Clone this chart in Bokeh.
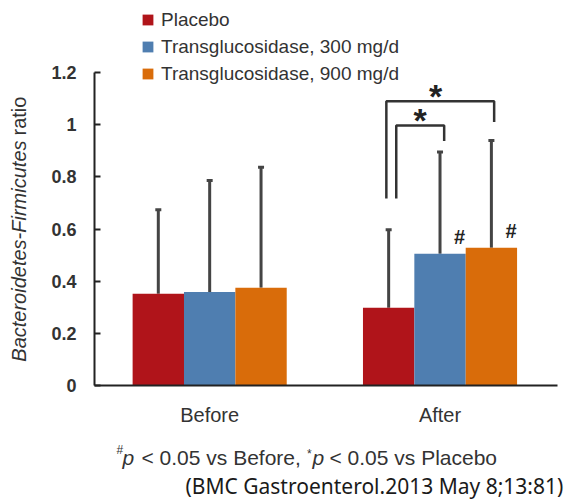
import math
from bokeh.plotting import figure
from bokeh.models import (Range1d, FixedTicker, Whisker, ColumnDataSource, Legend,
                          LegendItem, Label, TeeHead)
from bokeh.core.properties import value
from bokeh.embed import file_html
from bokeh.resources import INLINE

# ---------------- data ----------------
groups = ["Before", "After"]
series = ["Placebo", "Transglucosidase, 300 mg/d", "Transglucosidase, 900 mg/d"]
colors = ["#B0141A", "#4F7EB0", "#D96C0A"]
placebo = [0.352, 0.298]
tg300 = [0.358, 0.505]
tg900 = [0.375, 0.528]
placebo_sd = [0.322, 0.299]
tg300_sd = [0.428, 0.390]
tg900_sd = [0.462, 0.411]
yticks = [0, 0.2, 0.4, 0.6, 0.8, 1.0, 1.2]
ytick_labels = ["0", "0.2", "0.4", "0.6", "0.8", "1", "1.2"]
hash_marks = [[False, False], [False, True], [False, True]]  # p<0.05 vs Before
ylabel_italic = "Bacteroidetes-Firmicutes"
ylabel_plain = "ratio"
note_parts = ["#", "p", "< 0.05 vs Before,", "*", "p", "< 0.05 vs Placebo"]
citation = "(BMC Gastroenterol.2013 May 8;13:81)"

FONT = "Liberation Sans"
TXT = "#333333"

W, H = 566, 499
# plot area of the axes (pixels): left 94, right 557, top 72, bottom 385
X0, X1 = 0.5, 2.51
Y0, Y1 = 0.0, 1.2
kx = (557 - 94) / (X1 - X0)
ky = (385 - 72) / (Y1 - Y0)
x_range = Range1d(X0 - 94 / kx, X0 - 94 / kx + W / kx)
y_range = Range1d(Y1 + 72 / ky - H / ky, Y1 + 72 / ky)

p = figure(width=W, height=H, x_range=x_range, y_range=y_range, title=None,
           output_backend="svg", toolbar_location=None,
           min_border_left=0, min_border_right=0, min_border_top=0, min_border_bottom=0)
p.outline_line_color = None
p.xgrid.visible = False
p.ygrid.visible = False

bar_w = 0.223
offsets = [-bar_w, 0.0, bar_w]
group_x = [i + 1 for i in range(len(groups))]
all_vals = [placebo, tg300, tg900]
all_sd = [placebo_sd, tg300_sd, tg900_sd]

centers = []
uppers = []
for vals, sds, col, off, hm in zip(all_vals, all_sd, colors, offsets, hash_marks):
    xs = [g + off for g in group_x]
    up = [v + s for v, s in zip(vals, sds)]
    centers.append(xs)
    uppers.append(up)
    src = ColumnDataSource(dict(x=xs, top=vals, upper=up, lower=vals))
    p.vbar(x="x", top="top", bottom=0, width=bar_w, source=src,
           fill_color=col, line_color=None)
    w = Whisker(source=src, base="x", upper="upper", lower="lower", dimension="height",
                line_color="#444444", line_width=3,
                upper_head=TeeHead(size=6, line_color="#444444", line_width=3),
                lower_head=None)
    p.add_layout(w)
    hx = [x + 0.085 for x, h in zip(xs, hm) if h]
    hy = [v for v, h in zip(vals, hm) if h]
    if hx:
        p.text(x=hx, y=hy, text=["#"] * len(hx), text_font=value(FONT),
               text_font_style="bold", text_font_size="20px", text_color="#222222",
               text_align="center", text_baseline="middle", y_offset=-17)

# significance brackets (After group, vs placebo)
pl_x = centers[0][1]
br_xs = [
    [pl_x + 0.033, pl_x + 0.033, centers[1][1] + 0.018, centers[1][1] + 0.018],
    [pl_x - 0.010, pl_x - 0.010, centers[2][1] + 0.012, centers[2][1] + 0.012],
]
br_top = [uppers[1][1] + 0.102, uppers[2][1] + 0.151]
br_low = uppers[0][1] + 0.12
br_ys = [
    [br_low, br_top[0], br_top[0], uppers[1][1] + 0.042],
    [br_low, br_top[1], br_top[1], uppers[2][1] + 0.071],
]
p.multi_line(xs=br_xs, ys=br_ys, line_color="#333333", line_width=2.5)
star_x = [(b[0] + b[2]) / 2 for b in br_xs]
star_x[1] -= 0.02
p.text(x=star_x, y=br_top, text=["*", "*"], text_font=value(FONT), text_font_style="bold",
       text_font_size="34px", text_color="#222222", text_align="center",
       text_baseline="alphabetic", y_offset=-5)

# legend (anchored by its bottom-left corner, pixels from the bottom-left of the canvas)
items = []
nan = float("nan")
for name, col in zip(series, colors):
    r = p.scatter(x=[nan], y=[nan], marker="square", size=11, fill_color=col,
                  line_color=None)
    items.append(LegendItem(label=name, renderers=[r]))
legend = Legend(items=items, location=(134, 412), orientation="vertical",
                glyph_width=27, glyph_height=27, label_height=27, spacing=0,
                padding=0, margin=0, label_standoff=0,
                label_text_font=FONT, label_text_font_size="19px", label_text_color=TXT,
                border_line_color=None, background_fill_alpha=0)
p.add_layout(legend)

# axes, drawn at fixed data locations and bounded to the value range
p.yaxis.fixed_location = X0
p.yaxis.bounds = (Y0, Y1)
p.yaxis.ticker = FixedTicker(ticks=yticks)
p.yaxis.major_label_overrides = {t: l for t, l in zip(yticks, ytick_labels)}
p.yaxis.major_tick_in = 6
p.yaxis.major_tick_out = 0
p.yaxis.minor_tick_line_color = None
p.yaxis.axis_line_width = 2
p.yaxis.axis_line_color = "#222222"
p.yaxis.major_tick_line_width = 2
p.yaxis.major_tick_line_color = "#222222"
p.yaxis.major_label_standoff = 18
p.yaxis.major_label_text_font = FONT
p.yaxis.major_label_text_font_size = "18px"
p.yaxis.major_label_text_font_style = "bold"
p.yaxis.major_label_text_color = TXT

p.xaxis.fixed_location = Y0
p.xaxis.bounds = (X0, X1)
p.xaxis.ticker = FixedTicker(ticks=group_x)
p.xaxis.major_label_overrides = {g: n for g, n in zip(group_x, groups)}
p.xaxis.major_tick_in = 0
p.xaxis.major_tick_out = 0
p.xaxis.major_tick_line_color = None
p.xaxis.minor_tick_line_color = None
p.xaxis.axis_line_width = 2
p.xaxis.axis_line_color = "#222222"
p.xaxis.major_label_standoff = 18
p.xaxis.major_label_text_font = FONT
p.xaxis.major_label_text_font_size = "20px"
p.xaxis.major_label_text_color = TXT

# y axis title (italic + plain), screen pixels from bottom-left of canvas
p.add_layout(Label(x=18.5, y=H - 140, x_units="screen", y_units="screen", text=ylabel_italic,
                   angle=math.pi / 2, text_align="right", text_baseline="middle",
                   text_font=FONT, text_font_style="italic", text_font_size="20px",
                   text_color=TXT))
p.add_layout(Label(x=18.5, y=H - 135, x_units="screen", y_units="screen", text=ylabel_plain,
                   angle=math.pi / 2, text_align="left", text_baseline="middle",
                   text_font=FONT, text_font_size="20px", text_color=TXT))

# footnote
note_x = [116, 122, 141, 306.5, 312, 329]
note_base = [449, 457, 457, 453, 457, 457]
note_size = ["12px", "21px", "21px", "12px", "21px", "21px"]
note_style = ["normal", "italic", "normal", "normal", "italic", "normal"]
for t, nx, nb, ns, st in zip(note_parts, note_x, note_base, note_size, note_style):
    p.add_layout(Label(x=nx, y=H - nb, x_units="screen", y_units="screen", text=t,
                       text_align="left", text_baseline="alphabetic", text_font=FONT,
                       text_font_size=ns, text_font_style=st, text_color=TXT))

p.add_layout(Label(x=185, y=H - 485, x_units="screen", y_units="screen", text=citation,
                   text_align="left", text_baseline="alphabetic", text_font="Noto Sans",
                   text_font_size="21px", text_color="#1a1a1a"))

open("out.html", "w").write(file_html(p, INLINE))
